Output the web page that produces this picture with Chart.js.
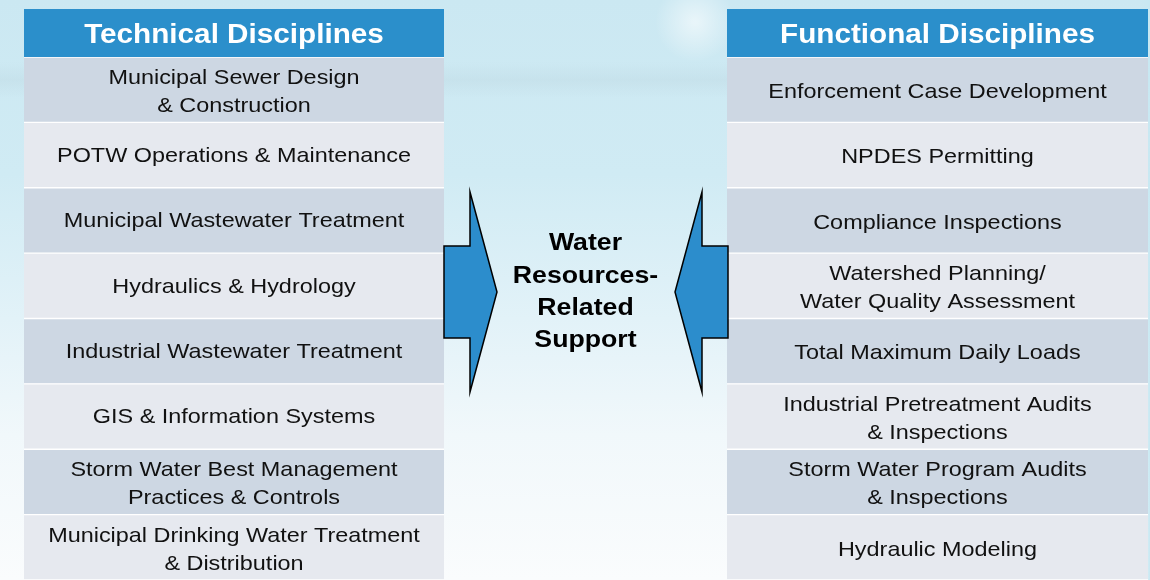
<!DOCTYPE html>
<html>
<head>
<meta charset="utf-8">
<script src="https://cdn.jsdelivr.net/npm/chart.js@4.4.1/dist/chart.umd.min.js"></script>
<style>
  html, body { margin: 0; padding: 0; background: #ffffff; }
  #wrap { width: 1150px; height: 580px; position: relative; }
</style>
</head>
<body>
<div id="wrap"><canvas id="c" width="1150" height="580"></canvas></div>
<script>
// ---- Data ----
const headers = ['Technical Disciplines', 'Functional Disciplines'];
const technical = [
  'Municipal Sewer Design\n& Construction',
  'POTW Operations & Maintenance',
  'Municipal Wastewater Treatment',
  'Hydraulics & Hydrology',
  'Industrial Wastewater Treatment',
  'GIS & Information Systems',
  'Storm Water Best Management\nPractices & Controls',
  'Municipal Drinking Water Treatment\n& Distribution'
];
const functional = [
  'Enforcement Case Development',
  'NPDES Permitting',
  'Compliance Inspections',
  'Watershed Planning/\nWater Quality Assessment',
  'Total Maximum Daily Loads',
  'Industrial Pretreatment Audits\n& Inspections',
  'Storm Water Program Audits\n& Inspections',
  'Hydraulic Modeling'
];
const centerText = ['Water', 'Resources-', 'Related', 'Support'];
const rowLabels = technical.map((_, i) => 'Row ' + (i + 1));
const techExtent = [24, 444];
const funcExtent = [727, 1148];

// ---- Styles ----
const FONT = '"Liberation Sans", Arial, Helvetica, sans-serif';
const HEADER_BLUE = '#2B8FCB';
const ROW_DARK = '#CDD7E3';
const ROW_LIGHT = '#E6E9EF';
const rowColors = rowLabels.map((_, i) => i % 2 === 0 ? ROW_DARK : ROW_LIGHT);

function stretchText(ctx, txt, x, y, sx) {
  ctx.save();
  ctx.translate(x, y);
  ctx.scale(sx, 1);
  ctx.fillText(txt, 0, 0);
  ctx.restore();
}

const diagramPlugin = {
  id: 'diagram',
  beforeDraw(chart) {
    const ctx = chart.ctx;
    const W = chart.width, H = chart.height;
    ctx.save();
    const g = ctx.createLinearGradient(0, 0, 0, H);
    g.addColorStop(0.00, '#CBE8F2');
    g.addColorStop(0.30, '#D0EBF4');
    g.addColorStop(0.55, '#E2F2F8');
    g.addColorStop(0.75, '#F1F8FB');
    g.addColorStop(1.00, '#FAFCFD');
    ctx.fillStyle = g;
    ctx.fillRect(0, 0, W, H);
    // faint horizon band
    const b = ctx.createLinearGradient(0, 62, 0, 98);
    b.addColorStop(0, 'rgba(180,205,215,0)');
    b.addColorStop(0.5, 'rgba(180,205,215,0.25)');
    b.addColorStop(1, 'rgba(180,205,215,0)');
    ctx.fillStyle = b;
    ctx.fillRect(0, 62, W, 36);
    // soft cloud
    const r = ctx.createRadialGradient(695, 22, 2, 695, 22, 40);
    r.addColorStop(0, 'rgba(255,255,255,0.55)');
    r.addColorStop(1, 'rgba(255,255,255,0)');
    ctx.fillStyle = r;
    ctx.fillRect(640, 0, 100, 70);
    // right edge tint
    const e = ctx.createLinearGradient(1140, 0, 1150, 0);
    e.addColorStop(0, 'rgba(200,232,242,0)');
    e.addColorStop(1, 'rgba(200,232,242,1)');
    ctx.fillStyle = e;
    ctx.fillRect(1140, 0, 10, H);
    ctx.restore();
  },
  beforeDatasetsDraw(chart) {
    const ctx = chart.ctx;
    const xs = chart.scales.x;
    const top = chart.chartArea.top;
    ctx.save();
    [techExtent, funcExtent].forEach((ext, k) => {
      const x0 = xs.getPixelForValue(ext[0]);
      const x1 = xs.getPixelForValue(ext[1]);
      ctx.fillStyle = '#ffffff';
      ctx.fillRect(x0, top - 1, x1 - x0, chart.chartArea.bottom - top + 1);
      ctx.fillStyle = HEADER_BLUE;
      ctx.fillRect(x0, 9, x1 - x0, top - 9);
      ctx.fillStyle = '#ffffff';
      ctx.font = 'bold 28px ' + FONT;
      ctx.textAlign = 'center';
      ctx.textBaseline = 'middle';
      stretchText(ctx, headers[k], (x0 + x1) / 2, 35, 1.06);
    });
    ctx.restore();
  },
  afterDatasetsDraw(chart) {
    const ctx = chart.ctx;
    const xs = chart.scales.x, ys = chart.scales.y;
    ctx.save();
    ctx.fillStyle = '#111111';
    ctx.font = '21px ' + FONT;
    ctx.textAlign = 'center';
    ctx.textBaseline = 'middle';
    [[technical, techExtent, -1.5], [functional, funcExtent, 0]].forEach(([list, ext, dy]) => {
      const cx = (xs.getPixelForValue(ext[0]) + xs.getPixelForValue(ext[1])) / 2;
      list.forEach((t, i) => {
        const cy = ys.getPixelForValue(i) + 2.5;
        const lines = t.split('\n');
        const lh = 28;
        lines.forEach((ln, j) => {
          const y = cy + (j - (lines.length - 1) / 2) * lh + (lines.length === 1 ? dy : 0);
          stretchText(ctx, ln, cx, y, 1.115);
        });
      });
    });

    // arrows
    const lx = xs.getPixelForValue(techExtent[1]);
    const rx = xs.getPixelForValue(funcExtent[0]);
    const midY = 292;
    const bodyHalf = 46, headHalf = 100, bodyLen = 26, headLen = 27;
    ctx.fillStyle = '#2C8DCC';
    ctx.strokeStyle = '#000000';
    ctx.lineWidth = 1.5;
    ctx.lineJoin = 'miter';
    function arrow(x, dir) {
      ctx.beginPath();
      ctx.moveTo(x, midY - bodyHalf);
      ctx.lineTo(x + dir * bodyLen, midY - bodyHalf);
      ctx.lineTo(x + dir * bodyLen, midY - headHalf);
      ctx.lineTo(x + dir * (bodyLen + headLen), midY);
      ctx.lineTo(x + dir * bodyLen, midY + headHalf);
      ctx.lineTo(x + dir * bodyLen, midY + bodyHalf);
      ctx.lineTo(x, midY + bodyHalf);
      ctx.closePath();
      ctx.fill();
      ctx.stroke();
    }
    arrow(lx, 1);
    arrow(rx + 1, -1);

    // center text
    ctx.fillStyle = '#000000';
    ctx.font = 'bold 23px ' + FONT;
    const ccx = (lx + rx) / 2;
    centerText.forEach((t, i) => {
      stretchText(ctx, t, ccx, 244 + i * 32.3, 1.16);
    });
    ctx.restore();
  }
};

new Chart(document.getElementById('c'), {
  type: 'bar',
  data: {
    labels: rowLabels,
    datasets: [
      {
        label: headers[0],
        data: technical.map(() => techExtent),
        backgroundColor: rowColors,
        borderColor: '#ffffff',
        borderWidth: { top: 1, bottom: 1, left: 0, right: 0 },
        borderSkipped: false,
        grouped: false,
        barPercentage: 1,
        categoryPercentage: 1
      },
      {
        label: headers[1],
        data: functional.map(() => funcExtent),
        backgroundColor: rowColors,
        borderColor: '#ffffff',
        borderWidth: { top: 1, bottom: 1, left: 0, right: 0 },
        borderSkipped: false,
        grouped: false,
        barPercentage: 1,
        categoryPercentage: 1
      }
    ]
  },
  options: {
    indexAxis: 'y',
    responsive: false,
    maintainAspectRatio: false,
    animation: false,
    events: [],
    layout: { padding: { top: 57, left: 0, right: 0, bottom: 0 } },
    scales: {
      x: { type: 'linear', min: 0, max: 1150, display: false },
      y: { type: 'category', display: false, offset: true }
    },
    plugins: {
      legend: { display: false },
      tooltip: { enabled: false },
      title: { display: false }
    }
  },
  plugins: [diagramPlugin]
});
</script>
</body>
</html>
